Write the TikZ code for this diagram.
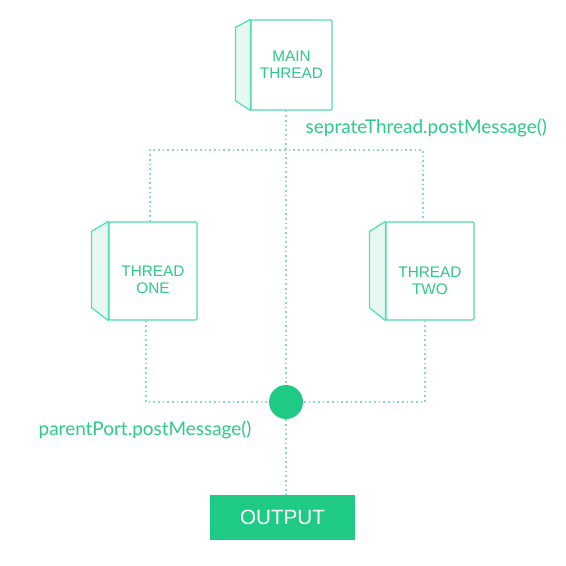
\documentclass[tikz,border=0pt]{standalone}
\usepackage{fontspec}
\setmainfont{Liberation Sans}
\newfontfamily\labelfont{Lato}
\usetikzlibrary{positioning,calc}
\definecolor{boxedge}{HTML}{52DDB2}
\definecolor{boxtext}{HTML}{2CC98A}
\definecolor{sidefill}{HTML}{E7F8F1}
\definecolor{linkcol}{HTML}{86D9C4}
\definecolor{outfill}{HTML}{1FCB84}
\tikzset{
	threadbox/.style={draw=boxedge, line width=0.9pt, fill=white, rounded corners=1pt, align=center, font=\fontsize{11.5}{13}\selectfont, text=boxtext},
	sideface/.style={draw=boxedge, line width=0.9pt, fill=sidefill, line join=round},
	link/.style={draw=linkcol, line width=1.3pt, dash pattern=on 1.3pt off 2.2pt},
	msglabel/.style={anchor=west, text=boxtext, font=\labelfont\fontsize{14.2}{16}\selectfont},
}
\begin{document}
\begin{tikzpicture}[x=0.75pt,y=-0.75pt]
	\useasboundingbox (0,0) rectangle (566,565);
	
	% thread boxes (front faces)
	\node[threadbox, minimum width=60.75pt, minimum height=67.5pt] (main) at (291.5,65) {MAIN\\THREAD};
	\node[threadbox, minimum width=66pt, minimum height=73.5pt] (one) at (153,271) {\rule{0pt}{21pt}THREAD\\ONE};
	\node[threadbox, minimum width=66pt, minimum height=73.5pt] (two) at (430,271) {\rule{0pt}{23pt}THREAD\\TWO};
	
	% side faces
	\draw[sideface] (main.north west) -- ++(-15,8) -- ($(main.south west)+(-15,-10)$) -- (main.south west) -- cycle;
	\draw[sideface] (one.north west) -- ++(-17,10) -- ($(one.south west)+(-17,-13)$) -- (one.south west) -- cycle;
	\draw[sideface] (two.north west) -- ++(-16,10) -- ($(two.south west)+(-16,-13)$) -- (two.south west) -- cycle;
	
	% join point and output
	\node[circle, fill=outfill, minimum size=25.5pt, inner sep=0pt] (join) at (286,402) {};
	\node[fill=outfill, minimum width=108.75pt, minimum height=33.75pt, text=white, font=\fontsize{15.5}{17}\selectfont] (output) at (282.5,517.5) {OUTPUT};
	\coordinate (bus) at (286,150);
	
	% connectors
	\draw[link] (main.south -| join) -- (join);
	\draw[link] (join) -- (output.north -| join);
	\draw[link] ([xshift=-2.25pt]one.north) |- (bus) -| ([xshift=-5.25pt]two.north);
	\draw[link] ([xshift=-5.25pt]one.south) |- (join);
	\draw[link] ([xshift=-3.75pt]two.south) |- (join);
	
	% message labels
	\node[msglabel] (sendlbl) at (301,128) {seprateThread.postMessage()};
	\node[msglabel] (replylbl) at (34,430) {parentPort.postMessage()};
\end{tikzpicture}
\end{document}
